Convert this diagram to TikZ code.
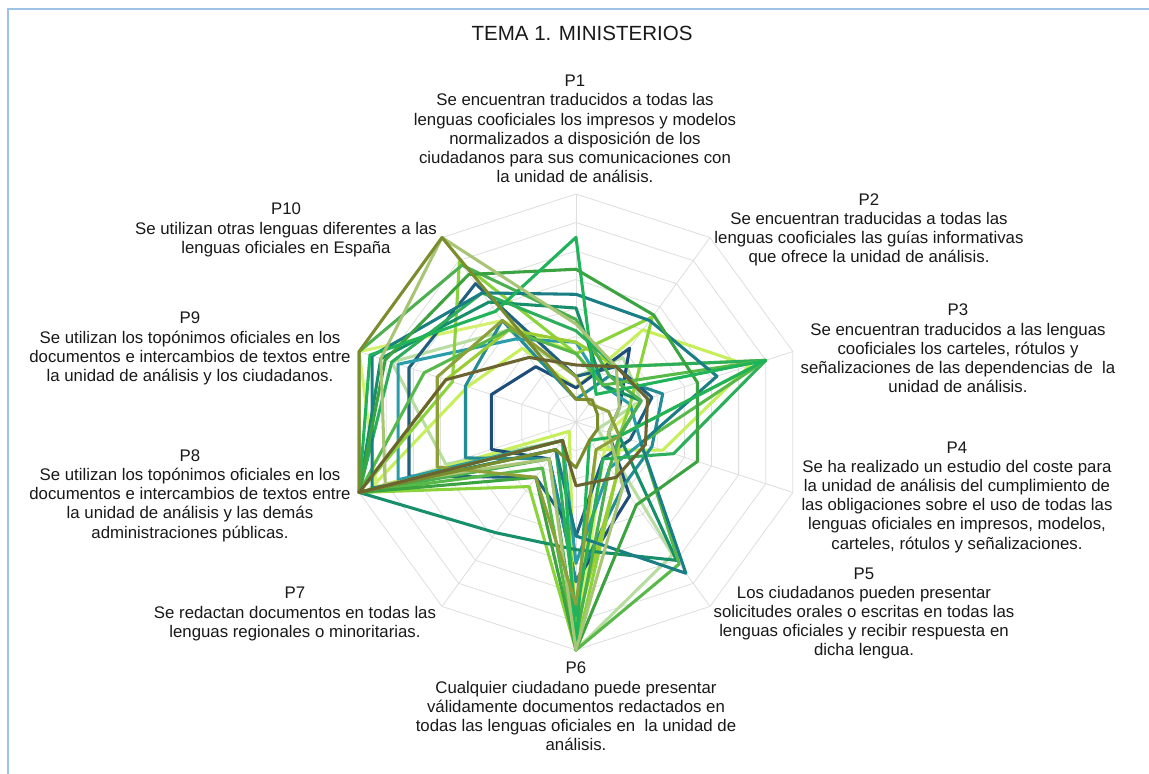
\documentclass[tikz,border=0pt]{standalone}
\usepackage{fontspec}
\setmainfont{Liberation Sans}
\begin{document}
\begin{tikzpicture}[x=0.75pt,y=0.75pt,
  lbl/.style={align=center,text=black!90,font=\fontsize{12.6}{14.4}\selectfont,inner sep=0pt},
  ttl/.style={text=black!90,font=\fontsize{15.4}{18}\selectfont,inner sep=0pt},
  ring/.style={draw=black!13,line width=0.6pt},
  spoke/.style={draw=black!13,line width=0.6pt},
  series/.style={line width=2.3pt,line join=round}]
\definecolor{navy}{HTML}{1D4E7A}
\definecolor{navyb}{HTML}{20607F}
\definecolor{teal1}{HTML}{1A7F85}
\definecolor{tealb}{HTML}{2A9DAA}
\definecolor{seag}{HTML}{178F6A}
\definecolor{green1}{HTML}{3BA33F}
\definecolor{bgreen}{HTML}{1FB35A}
\definecolor{mgreen}{HTML}{57B947}
\definecolor{lime1}{HTML}{8BD33A}
\definecolor{ylime}{HTML}{C6EF5A}
\definecolor{lolive}{HTML}{A8C575}
\definecolor{olive1}{HTML}{7A8C2C}
\definecolor{dolive}{HTML}{6B6330}
\definecolor{pgreen}{HTML}{B8DDA0}
\definecolor{ygreen}{HTML}{9ACD32}
\definecolor{green2}{HTML}{2DAE5B}
\definecolor{olive2}{HTML}{8DA03A}
\definecolor{teal2}{HTML}{238C94}
\definecolor{green3}{HTML}{4CAF50}
\definecolor{ylime2}{HTML}{D4F06C}
\definecolor{frame}{HTML}{9DC3E6}
% origin = chart centre (576,422) in pixels; y up
\useasboundingbox (-576,-352) rectangle (573,422);
\fill[white] (-576,-352) rectangle (573,422);
\draw[frame,line width=1.2pt] (-568,-352) -- (-568,413) -- (573,413);
\coordinate (c) at (0,0);
% grid
\foreach \r in {1,...,8}{
  \draw[ring] (90:{\r*28.5}) \foreach \k in {1,...,9}{ -- ({90-\k*36}:{\r*28.5}) } -- cycle;
}
\foreach \k in {0,...,9}{ \draw[spoke] (c) -- ({90-\k*36}:228); }
\newcommand\radar[2]{%
  \foreach \v [count=\i] in {#2}{\coordinate (q\i) at ({90-(\i-1)*36}:{\v*228});}
  \draw[series,#1] (q1)--(q2)--(q3)--(q4)--(q5)--(q6)--(q7)--(q8)--(q9)--(q10)--cycle;}
\radar{pgreen}{0.2,0.35,0.3,0.1,0.72,1.0,0.1,0.6,0.85,0.5}
\radar{ylime}{0.15,0.5,0.8,0.4,0.15,1.0,0.05,0.95,0.5,0.4}
\radar{ylime2}{0.3,0.2,0.3,0.15,0.2,1.0,0.1,0.92,1.0,0.55}
\radar{navy}{0.15,0.4,0.2,0.15,0.4,0.7,0.2,0.39,0.39,0.3}
\radar{teal2}{0.1,0.25,0.4,0.35,0.35,0.7,0.2,0.51,0.51,0.55}
\radar{navyb}{0.2,0.3,0.35,0.25,0.2,0.5,0.3,0.77,0.77,0.75}
\radar{tealb}{0.35,0.2,0.25,0.3,0.25,0.62,0.1,0.82,0.82,0.45}
\radar{lime1}{0.3,0.57,0.25,0.2,0.3,1.0,0.35,1.0,0.57,0.87}
\radar{ygreen}{0.35,0.3,0.875,0.2,0.3,0.9,0.1,1.0,0.6,0.5}
\radar{seag}{0.5,0.2,0.3,0.2,0.75,0.56,0.6,1.0,0.9,0.65}
\radar{green3}{0.45,0.25,0.3,0.2,0.25,0.95,0.2,1.0,1.0,0.85}
\radar{green2}{0.4,0.3,0.875,0.45,0.2,0.85,0.15,1.0,0.85,0.7}
\radar{mgreen}{0.3,0.2,0.875,0.3,0.77,1.0,0.25,1.0,0.7,0.5}
\radar{teal1}{0.56,0.55,0.65,0.3,0.82,0.5,0.15,0.94,0.94,0.7}
\radar{green1}{0.67,0.58,0.56,0.56,0.45,1.0,0.3,1.0,0.88,0.8}
\radar{bgreen}{0.81,0.15,0.875,0.2,0.1,1.0,0.1,1.0,0.95,0.6}
\radar{lolive}{0.43,0.3,0.2,0.15,0.35,1.0,0.2,0.88,0.9,1.0}
\radar{olive2}{0.2,0.1,0.15,0.2,0.15,0.8,0.3,0.64,0.64,0.55}
\radar{olive1}{0.1,0.12,0.1,0.1,0.1,0.2,0.15,1.0,1.0,1.0}
\radar{dolive}{0.25,0.3,0.33,0.32,0.3,0.28,0.1,1.0,0.6,0.35}
% labels (pixel positions converted: X=px-576, Y=422-py)
\node[ttl] (title) at (6,389) {TEMA 1. MINISTERIOS};
\node[lbl] (p1) at (-1,293) {P1\\Se encuentran traducidos a todas las\\lenguas cooficiales los impresos y modelos\\normalizados a disposición de los\\ciudadanos para sus comunicaciones con\\la unidad de análisis.};
\node[lbl] (p2) at (293,192) {P2\\Se encuentran traducidas a todas las\\lenguas cooficiales las guías informativas\\que ofrece la unidad de análisis.};
\node[lbl] (p3) at (382,73.5) {P3\\Se encuentran traducidos a las lenguas\\cooficiales los carteles, rótulos y\\señalizaciones de las dependencias de\ \ la\\unidad de análisis.};
\node[lbl] (p4) at (381,-75) {P4\\Se ha realizado un estudio del coste para\\la unidad de análisis del cumplimiento de\\las obligaciones sobre el uso de todas las\\lenguas oficiales en impresos, modelos,\\carteles, rótulos y señalizaciones.};
\node[lbl] (p5) at (288,-191.5) {P5\\Los ciudadanos pueden presentar\\solicitudes orales o escritas en todas las\\lenguas oficiales y recibir respuesta en\\dicha lengua.};
\node[lbl] (p6) at (0,-284.5) {P6\\Cualquier ciudadano puede presentar\\válidamente documentos redactados en\\todas las lenguas oficiales en\ \ la unidad de\\análisis.};
\node[lbl] (p7) at (-281,-192) {P7\\Se redactan documentos en todas las\\lenguas regionales o minoritarias.};
\node[lbl] (p8) at (-386,-73.5) {P8\\Se utilizan los topónimos oficiales en los\\documentos e intercambios de textos entre\\la unidad de análisis y las demás\\administraciones públicas.};
\node[lbl] (p9) at (-386,73.5) {P9\\Se utilizan los topónimos oficiales en los\\documentos e intercambios de textos entre\\la unidad de análisis y los ciudadanos.};
\node[lbl] (p10) at (-290,192) {P10\\Se utilizan otras lenguas diferentes a las\\lenguas oficiales en España};
\end{tikzpicture}
\end{document}
